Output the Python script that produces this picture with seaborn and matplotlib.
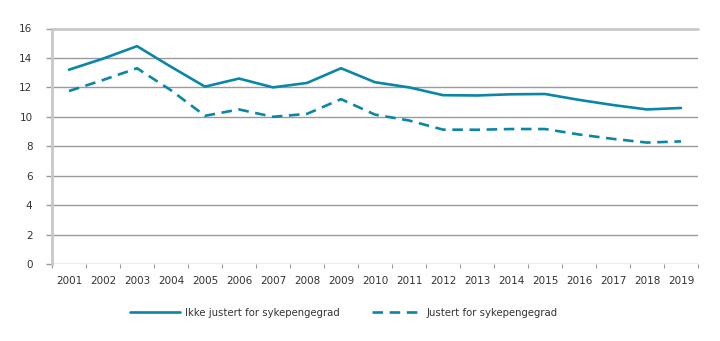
import matplotlib
matplotlib.use("Agg")
import matplotlib.pyplot as plt
import seaborn as sns
import pandas as pd
import numpy as np
from matplotlib.lines import Line2D

years = [str(y) for y in range(2001, 2020)]
ikke_justert = [13.2, 13.95, 14.8, 13.4, 12.05, 12.6, 12.0, 12.3, 13.3, 12.35,
                12.0, 11.47, 11.45, 11.53, 11.55, 11.15, 10.8, 10.5, 10.6]
justert = [11.75, 12.5, 13.3, 11.8, 10.07, 10.5, 10.0, 10.2, 11.2, 10.15,
           9.75, 9.13, 9.12, 9.17, 9.17, 8.8, 8.5, 8.25, 8.33]
series_names = ["Ikke justert for sykepengegrad", "Justert for sykepengegrad"]
yticks = [0, 2, 4, 6, 8, 10, 12, 14, 16]

df = pd.DataFrame({
    "År": years * 2,
    "Verdi": ikke_justert + justert,
    "Serie": [series_names[0]] * len(years) + [series_names[1]] * len(years),
})

sns.set_theme(style="white")
plt.rcParams['font.family'] = ['Liberation Sans Narrow', 'DejaVu Sans']

color = "#0a86a6"
fig = plt.figure(figsize=(7.2, 3.41), dpi=100)
ax = fig.add_axes([52/720, 1-264/341, (698-52)/720, (264-28.5)/341])

sns.lineplot(data=df, x="År", y="Verdi", style="Serie", ax=ax, color=color,
             dashes={series_names[0]: "", series_names[1]: (4, 2.5)},
             linewidth=1.9, legend=False, sort=False)

ax.set_xlim(-0.5, len(years) - 0.5)
ax.set_ylim(0, 16)
ax.set_yticks(yticks)
ax.set_yticklabels([str(v) for v in yticks])
ax.set_xticks(range(len(years)))
ax.set_xticklabels(years)
ax.set_xticks(np.arange(-0.5, len(years), 1.0), minor=True)
ax.set_xlabel("")
ax.set_ylabel("")

for v in yticks[1:-1]:
    ax.axhline(v, color="#9a9a9a", linewidth=1.0, zorder=0)
ax.axhline(16, color="#c8c8c8", linewidth=2.0, zorder=0, clip_on=False)
ax.axhline(0, color="#9a9a9a", linewidth=1.0, zorder=0)

for s in ["top", "right", "bottom"]:
    ax.spines[s].set_visible(False)
ax.spines["left"].set_color("#c8c8c8")
ax.spines["left"].set_linewidth(2.0)

ax.tick_params(axis="y", which="major", length=4, color="#9a9a9a", width=1, left=True,
               labelsize=7.5, labelcolor="#333333", pad=10)
ax.tick_params(axis="x", which="major", length=0, labelsize=7.5, labelcolor="#333333", pad=9)
ax.tick_params(axis="x", which="minor", length=3, color="#9a9a9a", width=0.8, bottom=True)

handles = [Line2D([], [], color=color, linewidth=1.9),
           Line2D([], [], color=color, linewidth=1.9, dashes=(4, 2.5))]
fig.legend(handles, series_names, loc="center", bbox_to_anchor=(0.478, 1-313/341),
           ncol=2, frameon=False, fontsize=7.3, handlelength=4.9, columnspacing=3.2,
           handletextpad=0.5, labelcolor="#333333")

fig.savefig("out.png", dpi=100)
